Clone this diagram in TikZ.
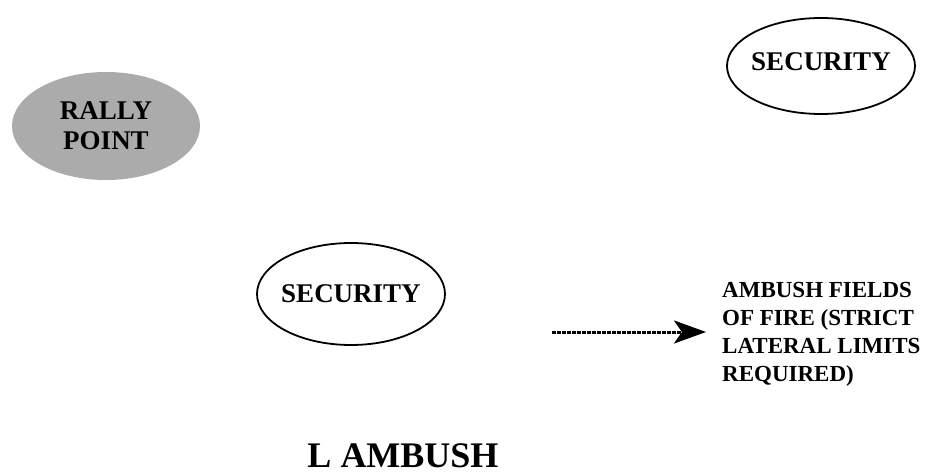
\documentclass[tikz,border=0pt]{standalone}
\usepackage{fontspec}
\setmainfont{Liberation Serif}
\usetikzlibrary{shapes.geometric,arrows.meta}
\tikzset{
  x=1pt, y=-1pt,
  zonefont/.style={font=\bfseries\fontsize{27}{30}\selectfont, inner sep=0pt, align=center},
  zone/.style={ellipse, inner sep=0pt, minimum width=188pt},
  post/.style={zone, draw=black, line width=1.8pt},
  rally/.style={zone, fill=black!33, minimum height=108pt},
  note/.style={font=\bfseries\fontsize{23}{28}\selectfont, align=left, inner sep=0pt},
  fire/.style={dash pattern=on 4pt off 1pt, line width=3pt, -{Stealth[length=32pt,width=23pt,inset=8pt]}},
  title/.style={font=\bfseries\fontsize{36}{40}\selectfont, inner sep=0pt}
}
\begin{document}
\begin{tikzpicture}
  \useasboundingbox (0,0) rectangle (930,476);
  % rally point
  \node[rally, label={[zonefont]center:RALLY\\POINT}] (rp) at (106,126) {};
  % security positions
  \node[post, minimum height=96pt, label={[zonefont, yshift=4pt]center:SECURITY}] (secA) at (821,66) {};
  \node[post, minimum height=102pt, label={[zonefont]center:SECURITY}] (secB) at (351,294) {};
  % fields of fire
  \node[note, anchor=north west] (fields) at (722,282) {AMBUSH FIELDS\\OF FIRE (STRICT\\LATERAL LIMITS\\REQUIRED)};
  \coordinate (fstart) at (552,332);
  \coordinate (fend) at (706,332);
  \draw[fire] (fstart) -- (fend);
  % caption
  \node[title] (cap) at (403,456) {L AMBUSH};
\end{tikzpicture}
\end{document}
